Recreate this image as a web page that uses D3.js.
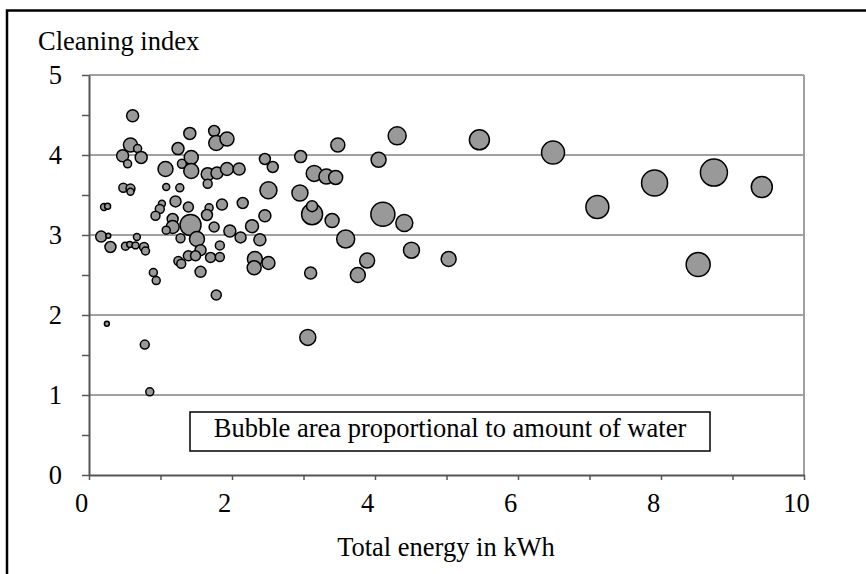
<!DOCTYPE html>
<html>
<head>
<meta charset="utf-8">
<script src="https://cdn.jsdelivr.net/npm/d3@7"></script>
<style>
  body { margin: 0; background: #fff; }
  svg { display: block; }
</style>
</head>
<body>
<svg width="866" height="574"></svg>
<script>
// total energy (kWh), cleaning index, water (relative amount -> bubble area)
var energy = [0.61, 0.58, 0.68, 0.47, 0.73, 0.54, 0.48, 0.58, 0.58, 0.21,
  0.26, 0.17, 0.27, 0.30, 0.51, 0.57, 0.65, 0.67, 0.77, 0.79,
  0.90, 0.94, 1.08, 1.27, 1.07, 1.245, 1.41, 1.30, 1.43, 1.43,
  1.66, 1.79, 1.93, 2.10, 1.66, 1.75, 1.78, 1.93, 2.46, 2.57,
  2.96, 2.51, 2.95, 1.21, 1.02, 0.99, 0.93, 1.39, 1.68, 1.65,
  1.86, 2.15, 2.46, 1.17, 1.17, 1.08, 1.42, 1.75, 1.97, 2.28,
  1.28, 1.51, 1.56, 1.83, 2.12, 2.39, 1.39, 1.49, 1.25, 1.29,
  1.70, 1.83, 2.32, 2.31, 2.51, 1.56, 1.78, 3.10, 3.12, 3.12,
  0.25, 0.78, 0.85,
  3.48, 4.31, 5.46, 6.49, 4.05, 3.15, 3.32, 3.45, 3.40, 4.11,
  4.41, 3.59, 4.51, 5.03, 3.89, 3.76, 3.06, 7.11, 7.91, 8.74,
  9.41, 8.52];
var cleaning = [4.49, 4.125, 4.08, 3.99, 3.97, 3.89, 3.59, 3.58, 3.54, 3.35,
  3.36, 2.98, 2.99, 2.85, 2.86, 2.88, 2.87, 2.975, 2.85, 2.80,
  2.53, 2.43, 3.60, 3.59, 3.825, 4.08, 4.27, 3.89, 3.97, 3.80,
  3.76, 3.775, 3.825, 3.825, 3.64, 4.30, 4.15, 4.20, 3.95, 3.85,
  3.98, 3.56, 3.525, 3.42, 3.39, 3.325, 3.24, 3.35, 3.34, 3.25,
  3.38, 3.40, 3.24, 3.20, 3.10, 3.06, 3.125, 3.10, 3.05, 3.11,
  2.96, 2.95, 2.81, 2.87, 2.97, 2.94, 2.74, 2.74, 2.675, 2.64,
  2.72, 2.725, 2.70, 2.59, 2.65, 2.54, 2.25, 2.525, 3.26, 3.36,
  1.89, 1.63, 1.04,
  4.125, 4.24, 4.19, 4.03, 3.94, 3.77, 3.73, 3.72, 3.18, 3.26,
  3.15, 2.95, 2.81, 2.70, 2.68, 2.50, 1.72, 3.35, 3.65, 3.78,
  3.60, 2.63];
var water = [36, 49, 16, 36, 36, 16, 20, 20, 12, 12,
  9, 30, 6, 30, 16, 9, 12, 12, 20, 16,
  16, 16, 12, 16, 56, 36, 36, 20, 49, 56,
  42, 36, 42, 36, 20, 30, 56, 49, 30, 30,
  36, 72, 64, 30, 12, 20, 20, 25, 16, 30,
  30, 30, 36, 30, 42, 16, 110, 25, 36, 42,
  20, 56, 30, 20, 30, 36, 25, 25, 20, 20,
  25, 20, 56, 49, 42, 30, 25, 36, 110, 30,
  6, 20, 16,
  49, 81, 100, 132, 56, 64, 56, 49, 49, 144,
  72, 81, 64, 56, 56, 56, 64, 132, 169, 182,
  110, 144];

var xTicks = [0, 1, 2, 3, 4, 5, 6, 7, 8, 9, 10];
var xLabels = [0, 2, 4, 6, 8, 10];
var yTicks = [0, 0.5, 1, 1.5, 2, 2.5, 3, 3.5, 4, 4.5, 5];
var yLabels = [0, 1, 2, 3, 4, 5];

var font = "'Liberation Serif', 'Times New Roman', serif";

var svg = d3.select("svg");

var data = energy.map(function(e, i) {
  return {x: e, y: cleaning[i], w: water[i]};
});

var x = d3.scaleLinear().domain([0, 10]).range([89, 804]);
var y = d3.scaleLinear().domain([0, 5]).range([475, 75]);
var r = d3.scaleSqrt().domain([0, 182]).range([0, 13.5]);

// outer frame (only top and left visible)
svg.append("path")
  .attr("d", "M7,574 V10.5 H866")
  .attr("fill", "none")
  .attr("stroke", "#000")
  .attr("stroke-width", 2.5);

// gridlines
svg.selectAll("line.grid")
  .data(yLabels.filter(function(d) { return d > 0; }))
  .enter()
  .append("line")
  .attr("class", "grid")
  .attr("x1", x(0))
  .attr("x2", x(10))
  .attr("y1", function(d) { return y(d); })
  .attr("y2", function(d) { return y(d); })
  .attr("stroke", "#808080")
  .attr("stroke-width", 1.5);

// right side of the plot area
svg.append("line")
  .attr("x1", x(10)).attr("x2", x(10))
  .attr("y1", y(5)).attr("y2", y(0))
  .attr("stroke", "#a0a0a0")
  .attr("stroke-width", 2);

// x axis
var xAxis = svg.append("g")
  .attr("transform", "translate(0," + y(0) + ")")
  .call(d3.axisBottom(x)
    .tickValues(xTicks)
    .tickSize(5)
    .tickSizeOuter(0)
    .tickFormat(function(d) { return xLabels.indexOf(d) >= 0 ? d : ""; }));
xAxis.select(".domain").attr("stroke", "#555").attr("stroke-width", 2);
xAxis.selectAll(".tick line").attr("stroke", "#555").attr("stroke-width", 1.5);
xAxis.selectAll(".tick text")
  .attr("y", 37)
  .attr("dy", 0)
  .attr("dx", -8)
  .attr("fill", "#000")
  .style("font-family", font)
  .style("font-size", "26.5px");

// y axis
var yAxis = svg.append("g")
  .attr("transform", "translate(" + x(0) + ",0)")
  .call(d3.axisLeft(y)
    .tickValues(yTicks)
    .tickSize(7)
    .tickSizeOuter(0)
    .tickFormat(function(d) { return yLabels.indexOf(d) >= 0 ? d : ""; }));
yAxis.select(".domain").attr("stroke", "#555").attr("stroke-width", 2);
yAxis.selectAll(".tick line").attr("stroke", "#555").attr("stroke-width", 1.5);
yAxis.selectAll(".tick text")
  .attr("x", -27)
  .attr("dy", "0.33em")
  .attr("fill", "#000")
  .style("font-family", font)
  .style("font-size", "26.5px");

// bubbles
svg.append("g")
  .selectAll("circle")
  .data(data)
  .enter()
  .append("circle")
  .attr("cx", function(d) { return x(d.x); })
  .attr("cy", function(d) { return y(d.y); })
  .attr("r", function(d) { return r(d.w); })
  .attr("fill", "#999999")
  .attr("stroke", "#000")
  .attr("stroke-width", 1.5);

// note box
svg.append("rect")
  .attr("x", 190).attr("y", 412)
  .attr("width", 520).attr("height", 39)
  .attr("fill", "#fff")
  .attr("stroke", "#000")
  .attr("stroke-width", 1.5);
svg.append("text")
  .attr("x", 450).attr("y", 437)
  .attr("text-anchor", "middle")
  .style("font-family", font)
  .style("font-size", "26.5px")
  .text("Bubble area proportional to amount of water");

// axis titles
svg.append("text")
  .attr("x", 38).attr("y", 50)
  .style("font-family", font)
  .style("font-size", "26.5px")
  .text("Cleaning index");

svg.append("text")
  .attr("x", 446).attr("y", 556)
  .attr("text-anchor", "middle")
  .style("font-family", font)
  .style("font-size", "26.5px")
  .text("Total energy in kWh");
</script>
</body>
</html>
